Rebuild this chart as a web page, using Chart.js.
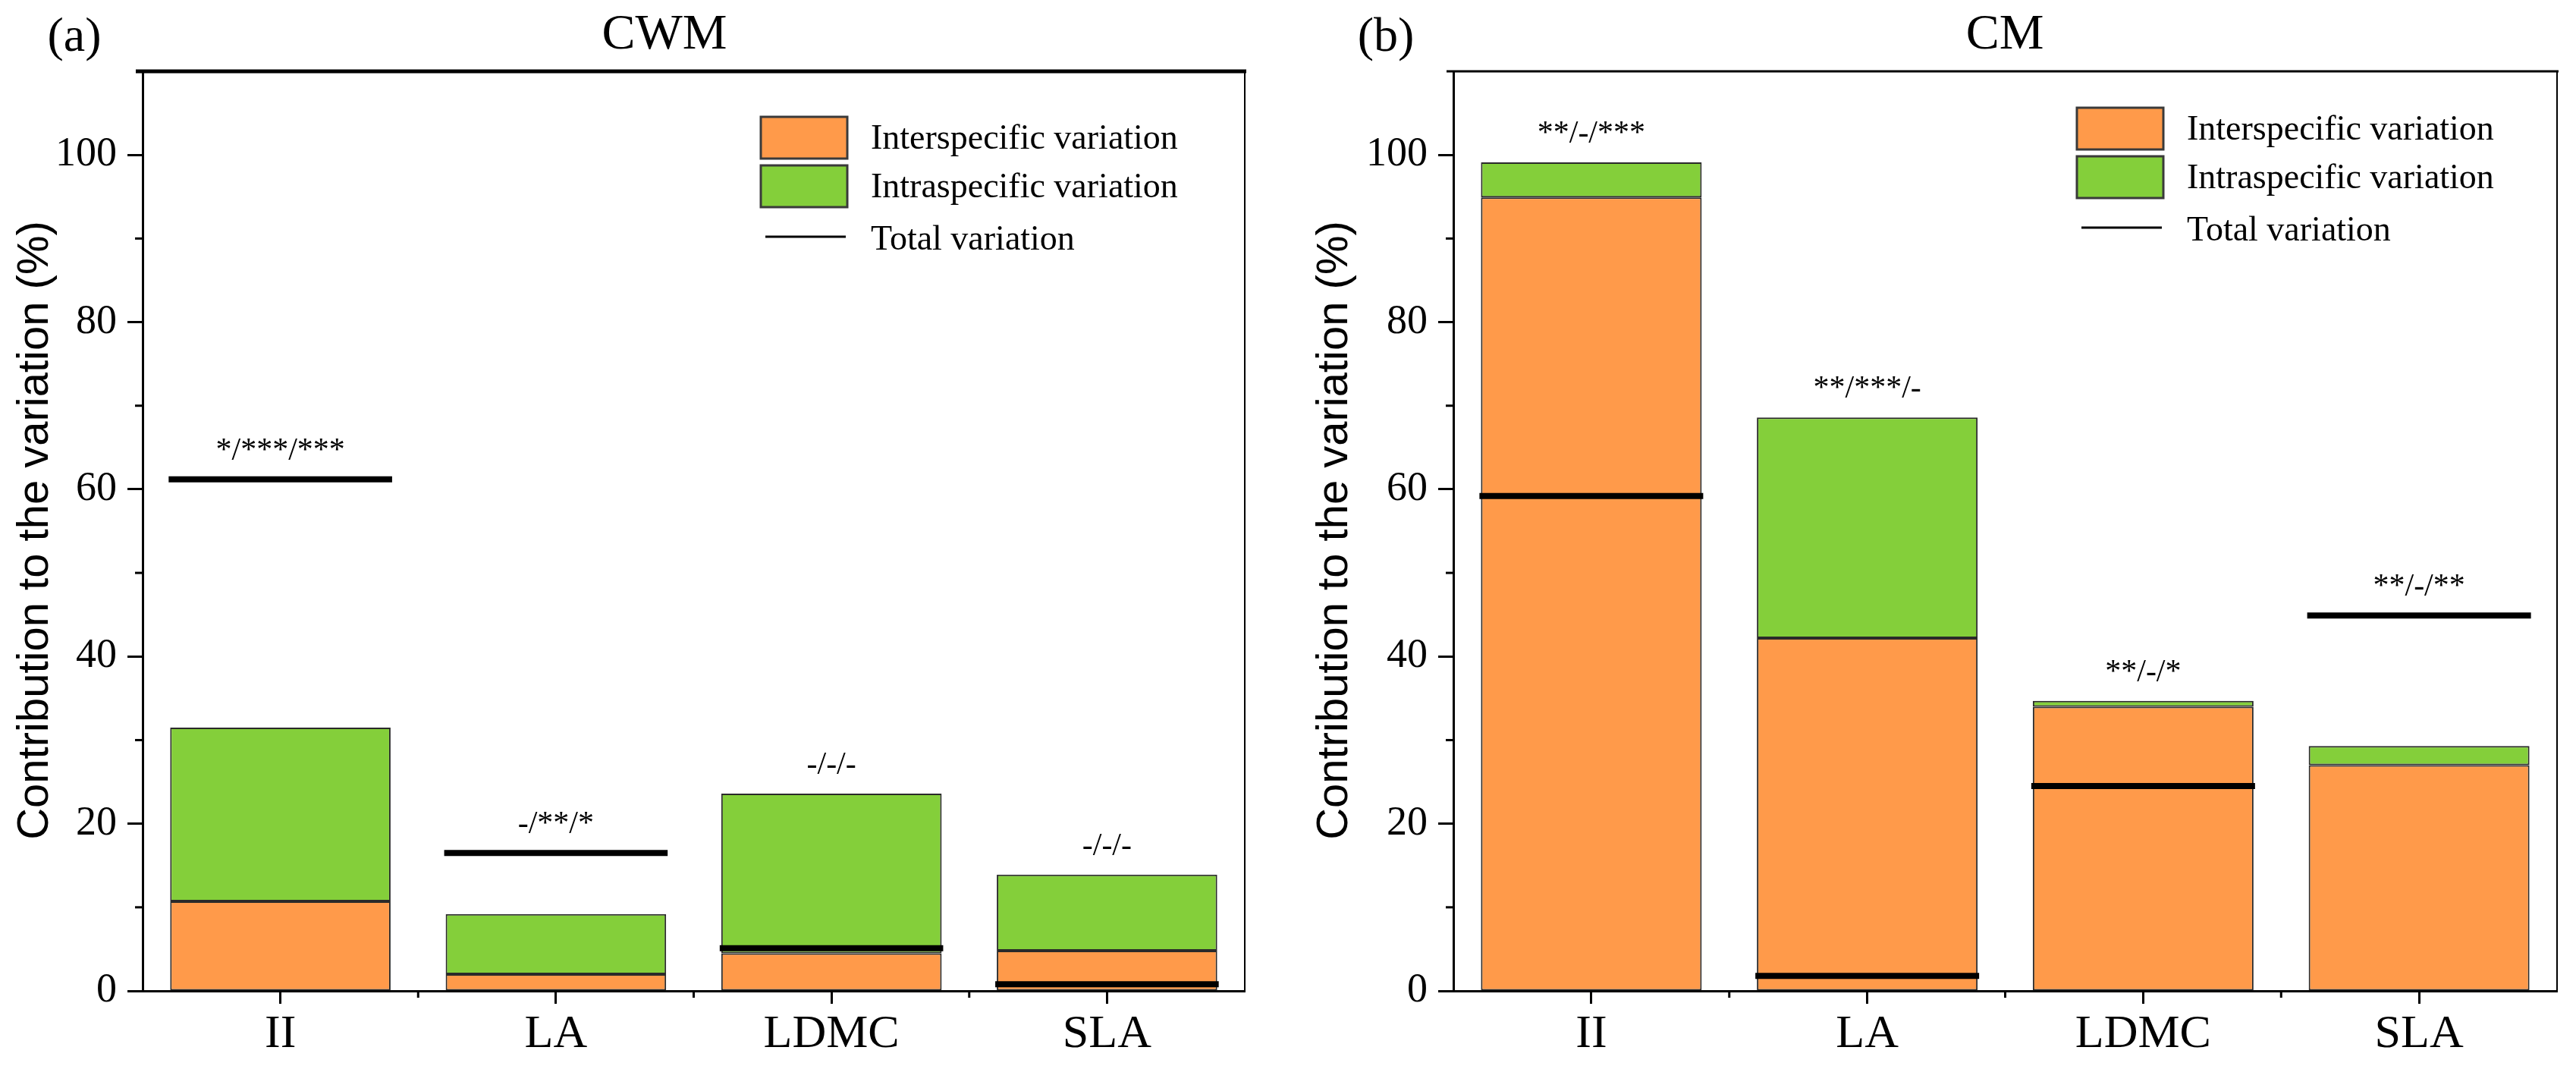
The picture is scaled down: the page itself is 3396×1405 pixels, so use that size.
<!DOCTYPE html>
<html>
<head>
<meta charset="utf-8">
<script src="https://cdn.jsdelivr.net/npm/chart.js@4.4.0/dist/chart.umd.min.js"></script>
<style>
  html, body { margin: 0; padding: 0; background: #fff; }
  #wrap { position: relative; width: 3396px; height: 1405px; }
  .panel { position: absolute; top: 0; height: 1405px; }
</style>
</head>
<body>
<div id="wrap">
  <div class="panel" style="left:0;width:1700px"><canvas id="cwmChart" width="1700" height="1405"></canvas></div>
  <div class="panel" style="left:1700px;width:1696px"><canvas id="cmChart" width="1696" height="1405"></canvas></div>
</div>
<script>
// traits on the x axis
var categories = ["II", "LA", "LDMC", "SLA"];
var yTicks = [0, 20, 40, 60, 80, 100];

// (a) CWM
var cwmInter = [10.7, 2.0, 4.5, 4.8];
var cwmIntra = [20.8, 7.2, 19.1, 9.1];
var cwmTotal = [61.2, 16.5, 5.1, 0.8];
var cwmSig = ["*/***/***", "-/**/*", "-/-/-", "-/-/-"];

// (b) CM
var cmInter = [94.9, 42.2, 34.0, 27.0];
var cmIntra = [4.2, 26.4, 0.7, 2.3];
var cmTotal = [59.2, 1.8, 24.5, 44.9];
var cmSig = ["**/-/***", "**/***/-", "**/-/*", "**/-/**"];

var ORANGE = "#FF9A4A";
var GREEN = "#84CF3A";
var SERIF = "'Liberation Serif', 'Times New Roman', serif";
var SANS = "'Liberation Sans', Arial, sans-serif";

// draws total variation lines, significance labels, minor ticks, frame, titles and legend
var extrasPlugin = {
  id: "extras",
  afterDatasetsDraw: function(chart) {
    var o = chart.options.plugins.extras;
    var ctx = chart.ctx;
    var y = chart.scales.y;
    var bars = chart.getDatasetMeta(0).data;
    var tops = chart.getDatasetMeta(1).data;
    ctx.save();
    bars.forEach(function(bar, i) {
      var half = bar.width / 2 + 2;
      var ty = y.getPixelForValue(o.total[i]);
      ctx.strokeStyle = "#000";
      ctx.lineWidth = 8;
      ctx.beginPath();
      ctx.moveTo(bar.x - half, ty);
      ctx.lineTo(bar.x + half, ty);
      ctx.stroke();

      var highest = Math.min(ty, tops[i].y);
      ctx.fillStyle = "#000";
      ctx.font = "42px " + SERIF;
      ctx.textAlign = "center";
      ctx.textBaseline = "alphabetic";
      ctx.fillText(o.sig[i], bar.x, highest - 26);
    });
    ctx.restore();
  },
  afterDraw: function(chart) {
    var o = chart.options.plugins.extras;
    var ctx = chart.ctx;
    var a = chart.chartArea;
    var y = chart.scales.y;
    var x = chart.scales.x;
    ctx.save();
    ctx.strokeStyle = "#000";
    ctx.lineCap = "butt";

    // minor y ticks
    ctx.lineWidth = 3;
    [10, 30, 50, 70, 90].forEach(function(v) {
      var py = y.getPixelForValue(v);
      ctx.beginPath();
      ctx.moveTo(a.left - 10, py);
      ctx.lineTo(a.left, py);
      ctx.stroke();
    });
    // minor x ticks between categories
    for (var i = 0; i < categories.length - 1; i++) {
      var px = (x.getPixelForValue(i) + x.getPixelForValue(i + 1)) / 2;
      ctx.beginPath();
      ctx.moveTo(px, a.bottom);
      ctx.lineTo(px, a.bottom + 9);
      ctx.stroke();
    }

    // frame: top and right
    ctx.lineWidth = o.topWidth;
    ctx.beginPath();
    ctx.moveTo(a.left - 9, a.top);
    ctx.lineTo(a.right + 2, a.top);
    ctx.stroke();
    ctx.lineWidth = 2;
    ctx.beginPath();
    ctx.moveTo(a.right, a.top);
    ctx.lineTo(a.right, a.bottom);
    ctx.stroke();

    // y axis title
    ctx.save();
    ctx.translate(o.yTitleX, 699);
    ctx.rotate(-Math.PI / 2);
    ctx.fillStyle = "#000";
    ctx.font = "58px " + SANS;
    ctx.textAlign = "center";
    ctx.textBaseline = "middle";
    ctx.fillText("Contribution to the variation (%)", 0, 0);
    ctx.restore();

    // panel letter and title
    ctx.fillStyle = "#000";
    ctx.textBaseline = "middle";
    ctx.textAlign = "center";
    ctx.font = "64px " + SERIF;
    ctx.fillText(o.letter, o.letterX, 50);
    ctx.font = "66px " + SERIF;
    ctx.fillText(o.title, o.titleX, 47);

    // legend
    var lx = o.legendX, ly = o.legendY;
    ctx.lineWidth = 3;
    ctx.strokeStyle = "#3a3a3a";
    ctx.fillStyle = ORANGE;
    ctx.fillRect(lx, ly, 114, 55);
    ctx.strokeRect(lx, ly, 114, 55);
    ctx.fillStyle = GREEN;
    ctx.fillRect(lx, ly + 64, 114, 55);
    ctx.strokeRect(lx, ly + 64, 114, 55);
    ctx.strokeStyle = "#000";
    ctx.beginPath();
    ctx.moveTo(lx + 6, ly + 158);
    ctx.lineTo(lx + 112, ly + 158);
    ctx.stroke();
    ctx.fillStyle = "#000";
    ctx.textAlign = "left";
    ctx.textBaseline = "alphabetic";
    ctx.font = "46px " + SERIF;
    ctx.fillText(chart.data.datasets[0].label, lx + 145, ly + 42);
    ctx.fillText(chart.data.datasets[1].label, lx + 145, ly + 106);
    ctx.fillText("Total variation", lx + 145, ly + 175);
    ctx.restore();
  }
};

function makeChart(id, inter, intra, total, sig, cfg) {
  var ctx = document.getElementById(id).getContext("2d");
  return new Chart(ctx, {
    type: "bar",
    data: {
      labels: categories,
      datasets: [
        { label: "Interspecific variation", data: inter, backgroundColor: ORANGE,
          borderColor: "#2a2a2a", borderWidth: 2, borderSkipped: false,
          categoryPercentage: 1.0, barPercentage: 0.8 },
        { label: "Intraspecific variation", data: intra, backgroundColor: GREEN,
          borderColor: "#2a2a2a", borderWidth: 2, borderSkipped: false,
          categoryPercentage: 1.0, barPercentage: 0.8 }
      ]
    },
    options: {
      responsive: false,
      devicePixelRatio: 1,
      animation: false,
      layout: { padding: { top: 94, right: cfg.rightPad, left: 0, bottom: 0 } },
      plugins: {
        legend: { display: false },
        tooltip: { enabled: false },
        extras: {
          total: total, sig: sig, letter: cfg.letter, letterX: cfg.letterX,
          title: cfg.title, titleX: cfg.titleX, topWidth: cfg.topWidth,
          legendX: cfg.legendX, legendY: cfg.legendY, yTitleX: cfg.yTitleX
        }
      },
      scales: {
        x: {
          stacked: true,
          offset: true,
          grid: { drawOnChartArea: false, offset: false, tickLength: 17, tickWidth: 3, tickColor: "#000" },
          border: { display: true, width: 3, color: "#000" },
          ticks: { font: { family: SERIF, size: 62 }, color: "#000", padding: 4, maxRotation: 0 },
          afterFit: function(s) { s.height = 99; }
        },
        y: {
          stacked: true,
          min: 0,
          max: 110,
          grid: { drawOnChartArea: false, tickLength: 20, tickWidth: 3, tickColor: "#000" },
          border: { display: true, width: 3, color: "#000" },
          afterBuildTicks: function(s) { s.ticks = yTicks.map(function(v) { return { value: v }; }); },
          ticks: { font: { family: SERIF, size: 54 }, color: "#000", padding: 14 },
          afterFit: function(s) { s.width = cfg.axisWidth; }
        }
      }
    },
    plugins: [extrasPlugin]
  });
}

makeChart("cwmChart", cwmInter, cwmIntra, cwmTotal, cwmSig, {
  letter: "(a)", letterX: 98, title: "CWM", titleX: 876, topWidth: 5,
  axisWidth: 188, rightPad: 59, yTitleX: 47, legendX: 1003, legendY: 154
});
makeChart("cmChart", cmInter, cmIntra, cmTotal, cmSig, {
  letter: "(b)", letterX: 127, title: "CM", titleX: 943, topWidth: 3,
  axisWidth: 216, rightPad: 25, yTitleX: 60, legendX: 1038, legendY: 142
});
</script>
</body>
</html>
